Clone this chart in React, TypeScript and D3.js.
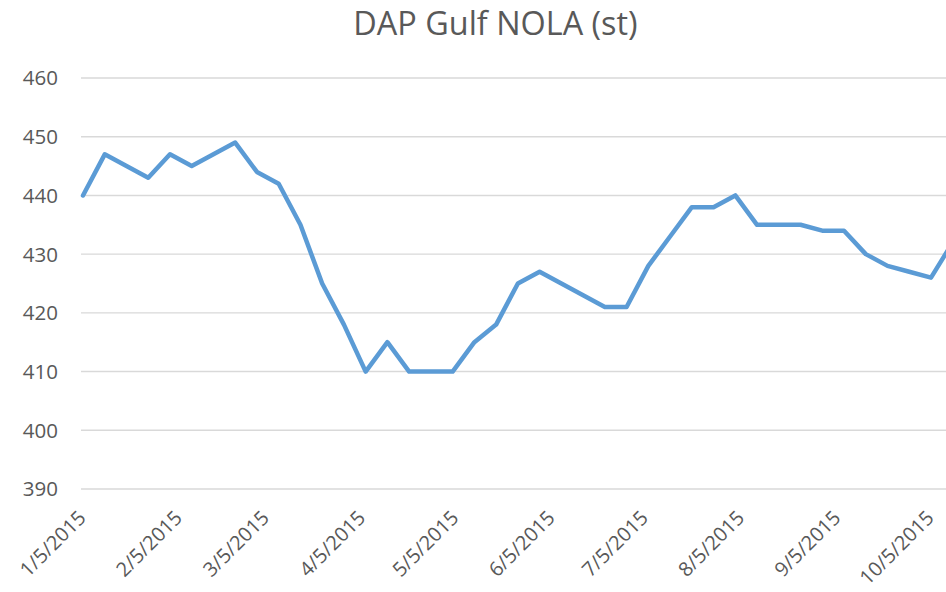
import React from "react";
import * as d3 from "d3";

const dates: string[] = [
  "2015-01-05", "2015-01-12", "2015-01-19", "2015-01-26", "2015-02-02", "2015-02-09",
  "2015-02-16", "2015-02-23", "2015-03-02", "2015-03-09", "2015-03-16", "2015-03-23",
  "2015-03-30", "2015-04-06", "2015-04-13", "2015-04-20", "2015-04-27", "2015-05-04",
  "2015-05-11", "2015-05-18", "2015-05-25", "2015-06-01", "2015-06-08", "2015-06-15",
  "2015-06-22", "2015-06-29", "2015-07-06", "2015-07-13", "2015-07-20", "2015-07-27",
  "2015-08-03", "2015-08-10", "2015-08-17", "2015-08-24", "2015-08-31", "2015-09-07",
  "2015-09-14", "2015-09-21", "2015-09-28", "2015-10-05", "2015-10-12",
];

const prices: number[] = [
  440, 447, 445, 443, 447, 445,
  447, 449, 444, 442, 435, 425,
  418, 410, 415, 410, 410, 410,
  415, 418, 425, 427, 425, 423,
  421, 421, 428, 433, 438, 438,
  440, 435, 435, 435, 434, 434,
  430, 428, 427, 426, 432,
];

const tickDates: string[] = [
  "2015-01-05", "2015-02-05", "2015-03-05", "2015-04-05", "2015-05-05",
  "2015-06-05", "2015-07-05", "2015-08-05", "2015-09-05", "2015-10-05",
];

const yTicks: number[] = [390, 400, 410, 420, 430, 440, 450, 460];

const title = "DAP Gulf NOLA (st)";

const W = 946;
const H = 592;
const FONT = "'Open Sans', sans-serif";
const TEXT = "#595959";

const parse = d3.utcParse("%Y-%m-%d");
const fmt = (d: Date) => `${d.getUTCMonth() + 1}/${d.getUTCDate()}/${d.getUTCFullYear()}`;

export default function App() {
  const x = d3
    .scaleUtc()
    .domain([parse("2015-01-05")!, parse("2015-10-05")!])
    .range([83, 931]);
  const y = d3.scaleLinear().domain([390, 460]).range([489, 78]);

  const pts = dates.map((d, i) => ({ date: parse(d)!, v: prices[i] }));
  const line = d3
    .line<{ date: Date; v: number }>()
    .x((d) => x(d.date))
    .y((d) => y(d.v));

  return (
    <div style={{ position: "absolute", left: 0, top: 0, width: W, height: H, overflow: "hidden", background: "#fff" }}>
      <svg width={W} height={H} style={{ display: "block", fontFamily: FONT }}>
        <rect width={W} height={H} fill="#fff" />
        <text x={495.5} y={35} textAnchor="middle" fontSize={32.4} fill={TEXT}>
          {title}
        </text>
        {yTicks.map((t) => (
          <g key={t}>
            <line x1={81} x2={W + 10} y1={y(t)} y2={y(t)} stroke="#d9d9d9" strokeWidth={1.4} />
            <text x={58} y={y(t)} dy="0.36em" textAnchor="end" fontSize={20.5} fill={TEXT}>
              {t}
            </text>
          </g>
        ))}
        {tickDates.map((t) => {
          const d = parse(t)!;
          const px = x(d) - 1;
          return (
            <text
              key={t}
              transform={`translate(${px},514) rotate(-45)`}
              textAnchor="end"
              dy="0.36em"
              fontSize={20}
              fill={TEXT}
            >
              {fmt(d)}
            </text>
          );
        })}
        <path
          d={line(pts) || ""}
          fill="none"
          stroke="#5b9bd5"
          strokeWidth={4.5}
          strokeLinejoin="round"
          strokeLinecap="round"
        />
      </svg>
    </div>
  );
}
